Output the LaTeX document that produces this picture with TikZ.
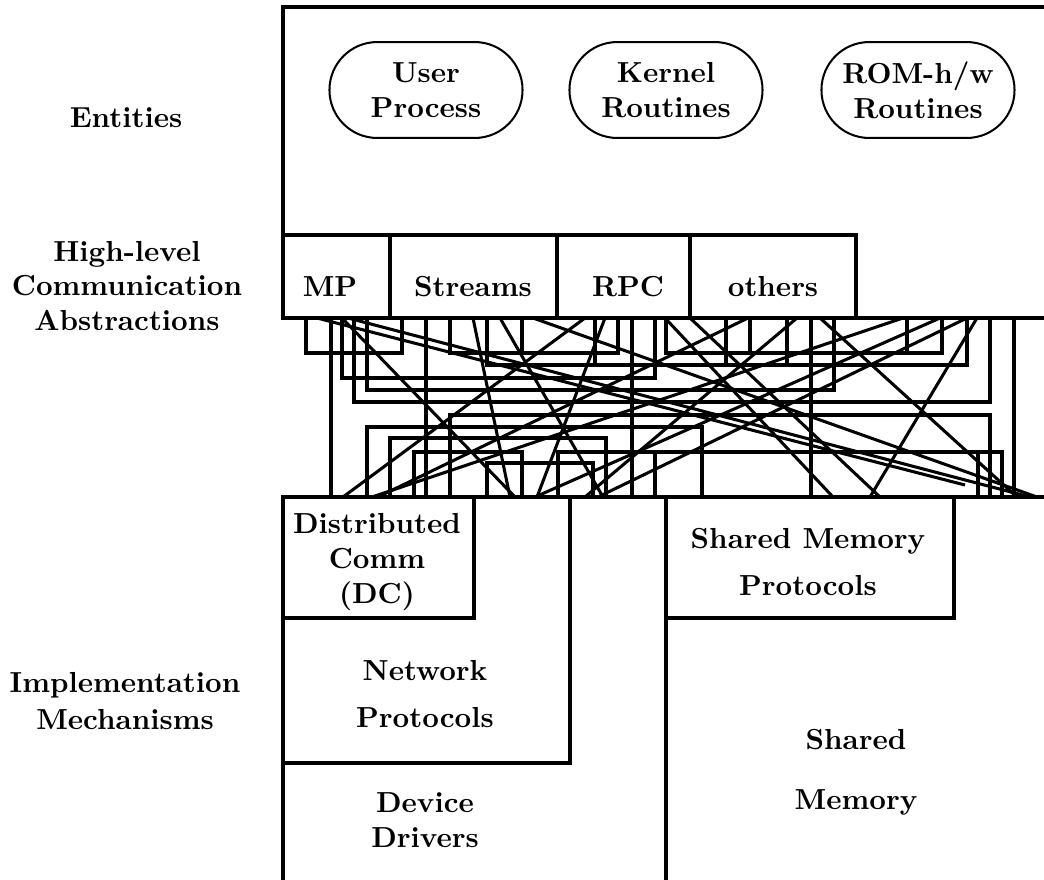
\documentclass[tikz,border=0pt]{standalone}
\usetikzlibrary{calc}

\begin{document}
\begin{tikzpicture}[x=0.345pt,y=-0.345pt,
    every node/.style={font=\bfseries,align=center,inner sep=0pt},
    box/.style={line width=1.1pt},
    wire/.style={line width=1.05pt},
    entity/.style={draw,line width=0.7pt,rounded corners=16.5pt,minimum width=66.6pt,minimum height=33.1pt}]

    \useasboundingbox (0,0) rectangle (1044,880);

    % layer names
    \node (ENT) at (126,118) {Entities};
    \node (HLCA) at (127,286) {High-level\\Communication\\Abstractions};
    \node (IMPL) at (125,701) {Implementation\\[0.7pt]Mechanisms};

    % entities
    \draw[box] (1044,7) -- (283,7) -- (283,318) -- (1044,318);
    \node[entity] (USER) at (426,90) {User\\Process};
    \node[entity] (KERNEL) at (666,90) {Kernel\\Routines};
    \node[entity] (ROM) at (918,90) {ROM-h/w\\Routines};

    % abstractions
    \draw[box] (283,235) -- (856,235) -- (856,318);
    \foreach \x in {390,557,690}
      \draw[box] (\x,235) -- (\x,318);
    \node (MP) at (330,287) {MP};
    \node (STREAMS) at (473,287) {Streams};
    \node (RPC) at (628,287) {RPC};
    \node (OTHERS) at (773,287) {others};

    % wiring between the two layers
    \foreach \a/\b/\y in {306/402/353,342/655/378,354/990/402,367/834/390,450/618/353,487/967/365,666/942/353}
      \draw[wire] (\a,318) |- (\b,\y) -- (\b,318);
    \foreach \x/\y in {522/353,595/365,726/365,787/365,750/353,907/353}
      \draw[wire] (\x,318) -- (\x,\y);
    \foreach \a/\b/\y in {367/702/427,390/606/438,414/522/452,487/593/463,450/990/415,558/1002/452}
      \draw[wire] (\a,497) |- (\b,\y) -- (\b,497);
    \foreach \x/\y in {655/452,978/452}
      \draw[wire] (\x,497) -- (\x,\y);
    \foreach \x in {331,426,632,811,1014}
      \draw[wire] (\x,318) -- (\x,497);
    \foreach \a/\b in {348/1030,342/515,473/510,500/603,585/343,605/537,533/1037,665/833,
                       820/1017,977/870,903/372,940/535,967/598,797/585,748/378,690/880}
      \draw[wire] (\a,318) -- (\b,497);
    \draw[wire] (317,318) -- (965,485);

    % mechanisms
    \draw[box] (1044,497) -- (283,497) -- (283,880);
    \draw[box] (474,499) -- (474,618) -- (283,618);
    \draw[box] (570,499) -- (570,763) -- (283,763);
    \draw[box] (666,499) -- (666,880);
    \draw[box] (954,499) -- (954,618) -- (666,618);
    \node (DC) at (377,562) {Distributed\\Comm\\(DC)};
    \node (NET) at (425,694) {Network\\[4.2pt]Protocols};
    \node (DEV) at (425,820) {Device\\Drivers};
    \node (SMP) at (808,562) {Shared Memory\\[4.2pt]Protocols};
    \node (SHM) at (856,772) {Shared\\[8.7pt]Memory};
  \end{tikzpicture}
\end{document}
